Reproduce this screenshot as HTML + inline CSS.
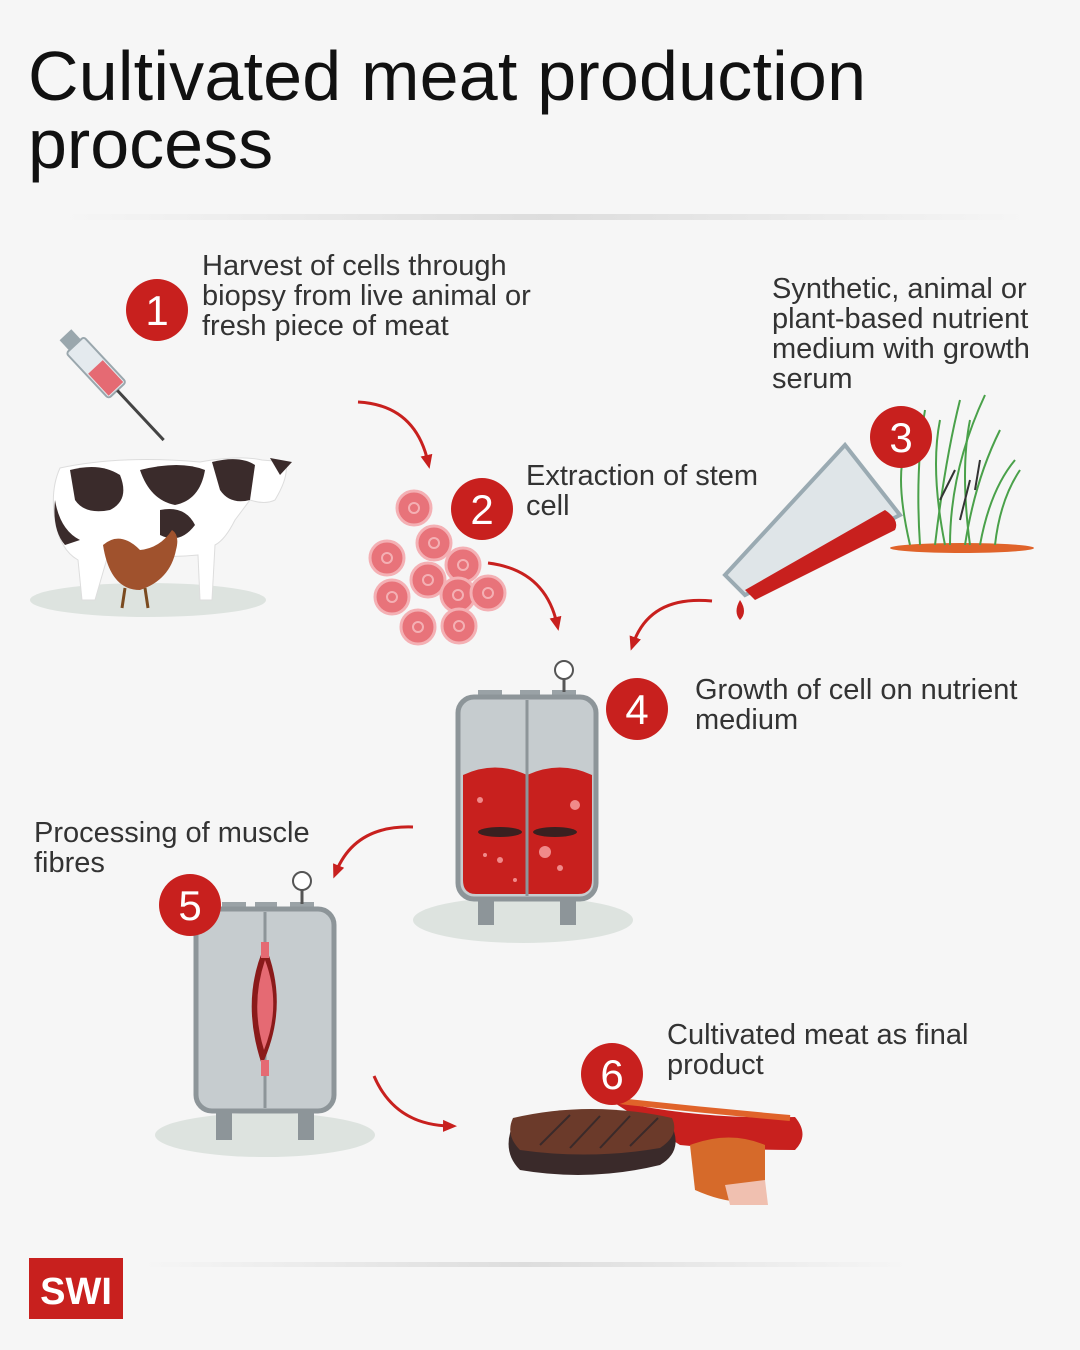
<!DOCTYPE html>
<html><head><meta charset="utf-8"><style>
html,body{margin:0;padding:0;background:#f6f6f6;}
svg{display:block}
text{font-family:"Liberation Sans",sans-serif;}
</style></head><body>
<svg width="1080" height="1350" viewBox="0 0 1080 1350" xmlns="http://www.w3.org/2000/svg">
<defs>
<marker id="ah" markerUnits="userSpaceOnUse" markerWidth="14" markerHeight="14" refX="7" refY="7" orient="auto"><path d="M0,1 L14,7 L0,13 z" fill="#c8201e"/></marker>
<linearGradient id="sh" x1="0" x2="1"><stop offset="0" stop-color="#f6f6f6"/><stop offset="0.5" stop-color="#ddd"/><stop offset="1" stop-color="#f6f6f6"/></linearGradient>
</defs>
<rect width="1080" height="1350" fill="#f6f6f6"/>
<text x="28" y="100" font-size="70" fill="#111" textLength="838">Cultivated meat production</text>
<text x="28" y="168" font-size="70" fill="#111">process</text>
<rect x="60" y="214" width="970" height="6" fill="url(#sh)"/>
<rect x="140" y="1262" width="770" height="5" fill="url(#sh)"/>

<g font-size="29" fill="#333">
<text x="202" y="275">Harvest of cells through</text>
<text x="202" y="305">biopsy from live animal or</text>
<text x="202" y="335">fresh piece of meat</text>
<text x="772" y="298">Synthetic, animal or</text>
<text x="772" y="328">plant-based nutrient</text>
<text x="772" y="358">medium with growth</text>
<text x="772" y="388">serum</text>
<text x="526" y="485">Extraction of stem</text>
<text x="526" y="515">cell</text>
<text x="695" y="699">Growth of cell on nutrient</text>
<text x="695" y="729">medium</text>
<text x="34" y="842">Processing of muscle</text>
<text x="34" y="872">fibres</text>
<text x="667" y="1044">Cultivated meat as final</text>
<text x="667" y="1074">product</text>
</g>

<g fill="none" stroke="#c8201e" stroke-width="3" marker-end="url(#ah)">
<path d="M358,402 Q415,405 428,462"/>
<path d="M488,563 Q545,570 557,624"/>
<path d="M712,601 Q650,595 633,644"/>
<path d="M413,827 Q355,825 336,872"/>
<path d="M374,1076 Q395,1125 450,1126"/>
</g>

<ellipse cx="148" cy="600" rx="118" ry="17" fill="#dde3df"/>
<g>
<path d="M60,468 Q120,455 200,462 Q240,455 262,460 L285,462 Q290,475 275,500 Q265,505 250,500 L235,520 Q225,540 215,545 L212,600 L200,600 L198,555 Q150,560 110,548 L95,600 L82,600 L78,560 Q60,550 55,520 Q50,490 60,468z" fill="#fff" stroke="#ddd"/>
<path d="M70,470 Q100,462 120,475 Q130,500 110,510 Q85,515 75,500z" fill="#3a2b2b"/>
<path d="M140,470 Q180,460 205,470 Q200,500 175,505 Q150,500 140,470z" fill="#3a2b2b"/>
<path d="M212,462 Q240,455 255,465 L250,500 Q230,505 220,490z" fill="#3a2b2b"/>
<path d="M55,500 Q60,530 80,540 L65,545 Q52,530 55,500z" fill="#3a2b2b"/>
<path d="M160,510 Q185,505 195,525 Q180,545 160,535z" fill="#3a2b2b"/>
<path d="M270,458 L292,462 L280,475z" fill="#3a2b2b"/>
</g>
<path d="M103,545 Q120,530 140,550 Q160,548 172,530 Q180,535 176,550 Q170,580 140,590 Q110,590 103,545z" fill="#a0522d"/>
<path d="M125,588 L122,608 M145,588 L148,608" stroke="#7a4a20" stroke-width="3"/>
<g transform="translate(75,345) rotate(47)">
<rect x="-14" y="-8" width="14" height="16" fill="#9aa7ad"/>
<rect x="0" y="-12" width="62" height="24" rx="3" fill="#e4eaee" stroke="#9aa7ad" stroke-width="2"/>
<rect x="30" y="-10" width="30" height="20" fill="#e56a73"/>
<line x1="62" y1="0" x2="130" y2="0" stroke="#444" stroke-width="3"/>
</g>

<g fill="#e8737a" stroke="#f4b0b4" stroke-width="3">
<circle cx="414" cy="508" r="17"/><circle cx="434" cy="543" r="17"/><circle cx="387" cy="558" r="17"/>
<circle cx="463" cy="565" r="17"/><circle cx="428" cy="580" r="17"/><circle cx="392" cy="597" r="17"/>
<circle cx="458" cy="595" r="17"/><circle cx="488" cy="593" r="17"/><circle cx="418" cy="627" r="17"/><circle cx="459" cy="626" r="17"/>
</g>
<g fill="none" stroke="#f4b0b4" stroke-width="2">
<circle cx="414" cy="508" r="5"/><circle cx="434" cy="543" r="5"/><circle cx="387" cy="558" r="5"/><circle cx="463" cy="565" r="5"/><circle cx="428" cy="580" r="5"/><circle cx="392" cy="597" r="5"/><circle cx="458" cy="595" r="5"/><circle cx="488" cy="593" r="5"/><circle cx="418" cy="627" r="5"/><circle cx="459" cy="626" r="5"/>
</g>

<ellipse cx="962" cy="548" rx="72" ry="5" fill="#e0632a"/>
<g stroke="#4aa14a" stroke-width="2" fill="none">
<path d="M920,545 Q915,470 925,410"/><path d="M935,545 Q945,460 960,400"/><path d="M950,545 Q950,470 985,395"/>
<path d="M965,545 Q975,480 1000,430"/><path d="M980,545 Q990,490 1015,460"/><path d="M995,545 Q1000,500 1020,470"/>
<path d="M910,545 Q895,480 905,450"/><path d="M945,545 Q930,470 940,420"/><path d="M970,545 Q960,470 970,420"/>
</g>
<g stroke="#333" stroke-width="2" fill="none"><path d="M940,500 l15,-30 M960,520 l10,-40 M975,490 l5,-30"/></g>
<path d="M725,575 L845,445 L900,515 L745,595z" fill="#dfe5e8" stroke="#9aaab2" stroke-width="4"/>
<path d="M745,590 L885,510 Q900,520 895,530 L755,600z" fill="#c8201e"/>
<path d="M740,600 Q733,612 740,620 Q748,612 740,600z" fill="#c8201e"/>

<ellipse cx="523" cy="920" rx="110" ry="23" fill="#dde3df"/>
<rect x="478" y="690" width="24" height="12" fill="#9aa2a6"/><rect x="520" y="690" width="20" height="12" fill="#9aa2a6"/><rect x="552" y="690" width="24" height="12" fill="#9aa2a6"/>
<line x1="564" y1="678" x2="564" y2="692" stroke="#555" stroke-width="3"/><circle cx="564" cy="670" r="9" fill="#fff" stroke="#555" stroke-width="2"/>
<rect x="478" y="895" width="16" height="30" fill="#8d9599"/><rect x="560" y="895" width="16" height="30" fill="#8d9599"/>
<rect x="458" y="697" width="138" height="202" rx="16" fill="#c6cccf" stroke="#8d9599" stroke-width="5"/>
<path d="M463,775 Q495,760 527,775 Q560,760 592,775 L592,880 Q592,894 578,894 L476,894 Q463,894 463,880z" fill="#c8201e"/>
<line x1="527" y1="700" x2="527" y2="896" stroke="#8d9599" stroke-width="3"/>
<ellipse cx="500" cy="832" rx="22" ry="5" fill="#3a2020"/><ellipse cx="555" cy="832" rx="22" ry="5" fill="#3a2020"/>
<g fill="#f08a8a"><circle cx="480" cy="800" r="3"/><circle cx="545" cy="852" r="6"/><circle cx="575" cy="805" r="5"/><circle cx="500" cy="860" r="3"/><circle cx="560" cy="868" r="3"/><circle cx="515" cy="880" r="2"/><circle cx="485" cy="855" r="2"/></g>

<ellipse cx="265" cy="1135" rx="110" ry="22" fill="#dde3df"/>
<rect x="222" y="902" width="24" height="12" fill="#9aa2a6"/><rect x="255" y="902" width="22" height="12" fill="#9aa2a6"/><rect x="290" y="902" width="24" height="12" fill="#9aa2a6"/>
<line x1="302" y1="890" x2="302" y2="904" stroke="#555" stroke-width="3"/><circle cx="302" cy="881" r="9" fill="#fff" stroke="#555" stroke-width="2"/>
<rect x="216" y="1108" width="16" height="32" fill="#8d9599"/><rect x="298" y="1108" width="16" height="32" fill="#8d9599"/>
<rect x="196" y="909" width="138" height="202" rx="16" fill="#c6cccf" stroke="#8d9599" stroke-width="5"/>
<line x1="265" y1="912" x2="265" y2="1108" stroke="#8d9599" stroke-width="3"/>
<path d="M265,945 Q240,1000 262,1065 Q290,1005 265,945z" fill="#8a1a1a"/>
<path d="M265,960 Q250,1005 264,1050 Q282,1005 265,960z" fill="#e56a73"/>
<rect x="261" y="942" width="8" height="16" fill="#e56a73"/><rect x="261" y="1060" width="8" height="16" fill="#e56a73"/>

<path d="M610,1100 Q700,1120 795,1117 Q810,1135 795,1150 Q730,1150 680,1145z" fill="#c8201e"/>
<path d="M610,1100 Q700,1110 790,1118" stroke="#e0632a" stroke-width="6" fill="none"/>
<path d="M515,1120 Q590,1100 670,1122 Q685,1150 660,1165 Q590,1182 520,1170 Q500,1150 515,1120z" fill="#3a2a2a"/>
<path d="M513,1118 Q590,1100 672,1118 Q680,1135 660,1148 Q590,1160 520,1150 Q505,1135 513,1118z" fill="#6b3a2a"/>
<g stroke="#3a2a2a" stroke-width="2"><path d="M540,1145 l30,-30 M570,1148 l30,-32 M600,1148 l30,-32 M630,1146 l28,-28"/></g>
<path d="M690,1145 Q730,1130 765,1145 L765,1195 Q740,1210 695,1190z" fill="#d66a2a"/>
<path d="M725,1185 L765,1180 L768,1205 L730,1205z" fill="#f0c0b0"/>

<g fill="#c8201e"><circle cx="157" cy="310" r="31"/><circle cx="482" cy="509" r="31"/><circle cx="901" cy="437" r="31"/><circle cx="637" cy="709" r="31"/><circle cx="190" cy="905" r="31"/><circle cx="612" cy="1074" r="31"/></g>
<g fill="#fff" font-size="42" text-anchor="middle">
<text x="157" y="325">1</text><text x="482" y="524">2</text><text x="901" y="452">3</text><text x="637" y="724">4</text><text x="190" y="920">5</text><text x="612" y="1089">6</text>
</g>

<rect x="29" y="1258" width="94" height="61" fill="#c8201e"/>
<text x="76" y="1304" font-size="38" font-weight="bold" fill="#fff" text-anchor="middle">SWI</text>
</svg>
</body></html>
